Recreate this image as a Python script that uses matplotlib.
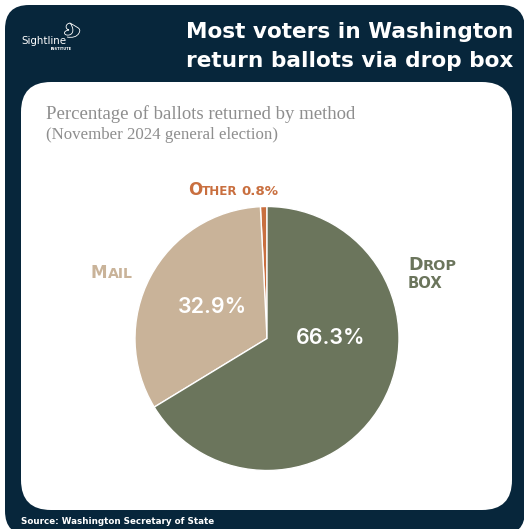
import matplotlib
matplotlib.use('Agg')
import matplotlib.pyplot as plt
from matplotlib.patches import FancyBboxPatch, PathPatch
from matplotlib.path import Path

W, H = 524, 529
NAVY = '#07263B'
HEAD_FONT = 'DejaVu Sans'

methods = ['Other', 'Mail', 'Drop box']
shares = [0.8, 32.9, 66.3]
colors = ['#C96F3F', '#C9B399', '#6B755C']

title_lines = ['Most voters in Washington', 'return ballots via drop box']
subtitle_lines = ['Percentage of ballots returned by method', '(November 2024 general election)']
source = 'Source: Washington Secretary of State'

fig = plt.figure(figsize=(W / 100, H / 100), dpi=100, facecolor='white')

# pixel coordinates for the card and all the text
bg = fig.add_axes([0, 0, 1, 1])
bg.set_xlim(0, W)
bg.set_ylim(H, 0)
bg.axis('off')

bg.add_patch(FancyBboxPatch((5, 5), 520, 530, boxstyle='round,pad=0,rounding_size=24',
                            fc=NAVY, ec='none'))
bg.add_patch(FancyBboxPatch((21, 82), 491, 428, boxstyle='round,pad=0,rounding_size=30',
                            fc='white', ec='none'))

# logo
M, C = Path.MOVETO, Path.CURVE4
swirl = Path([(70, 23), (65, 24), (65, 29), (69, 30),
              (62, 31), (64, 36), (69, 35),
              (74, 34), (74, 28), (70, 23),
              (76, 27), (82, 28), (79, 33),
              (77, 37), (72, 38), (67, 37)],
             [M, C, C, C, C, C, C, C, C, C, C, C, C, C, C, C])
bg.add_patch(PathPatch(swirl, fc='none', ec='white', lw=0.6))
bg.text(21, 41, 'Sightline', color='white', fontsize=7.4, family=HEAD_FONT, va='center', ha='left',
        fontweight='medium')
bg.text(72, 48.5, 'INSTITUTE', color='white', fontsize=2.6, family=HEAD_FONT, va='center', ha='right',
        fontweight='bold')

# heading
for line, y in zip(title_lines, [32, 61]):
    bg.text(513, y, line, color='white', fontsize=15.6, family=HEAD_FONT, fontweight='bold',
            ha='right', va='center')

for line, y, size in zip(subtitle_lines, [114, 135], [13.5, 12.2]):
    bg.text(46, y, line, color='#8E8E8E', fontsize=size, family='Liberation Serif',
            ha='left', va='center')

bg.text(21, 521.5, source, color='white', fontsize=6.3, family=HEAD_FONT, fontweight='bold',
        ha='left', va='center')


def small_caps(x, y, parts, color):
    # each part is (text, size, gap after it), laid out along one baseline
    renderer = fig.canvas.get_renderer()
    cur = x
    for txt, size, gap in parts:
        t = bg.text(cur, y, txt, color=color, fontsize=size, family=HEAD_FONT, fontweight='bold',
                    ha='left', va='baseline')
        cur += t.get_window_extent(renderer).width + gap


small_caps(188, 195, [(methods[0][0], 12, 0), (methods[0][1:].upper(), 8.6, 4),
                      (f'{shares[0]}%', 9.6, 0)], colors[0])
small_caps(91, 278, [(methods[1][0], 12, 0), (methods[1][1:].upper(), 10.2, 0)], colors[1])
drop, box = methods[2].split()
small_caps(408, 270, [(drop[0], 12.6, 0), (drop[1:].upper(), 10.4, 0)], colors[2])
small_caps(408, 288, [(box.upper(), 10.6, 0)], colors[2])

# pie
cx, cy, r = 267, 338.5, 132
ax = fig.add_axes([(cx - r) / W, 1 - (cy + r) / H, 2 * r / W, 2 * r / H])
wedges, _ = ax.pie(shares, colors=colors, startangle=90, radius=1,
                   wedgeprops={'edgecolor': 'white', 'linewidth': 1.0})
ax.set_xlim(-1, 1)
ax.set_ylim(-1, 1)

# values drawn inside the two large slices
ax.text(-0.41, 0.235, f'{shares[1]}%', color='white', fontsize=15.4, family='Inter',
        fontweight='semibold', ha='center', va='center')
ax.text(0.48, 0.0, f'{shares[2]}%', color='white', fontsize=15.4, family='Inter',
        fontweight='semibold', ha='center', va='center')

fig.savefig('out.png', dpi=100)
